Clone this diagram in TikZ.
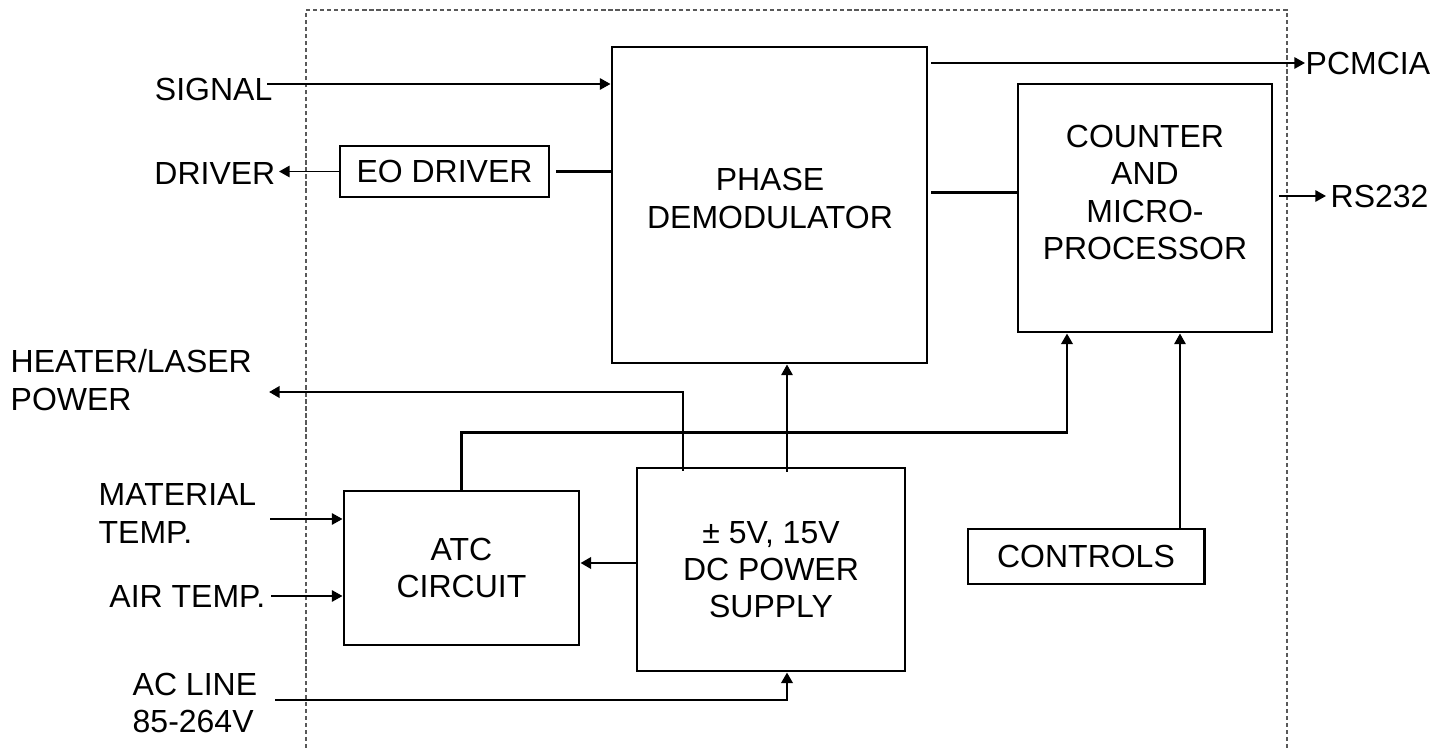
\documentclass[tikz,border=0pt]{standalone}
\usepackage{fontspec}
\setmainfont{Liberation Sans}
\usepackage{tikz}
\usetikzlibrary{arrows.meta,positioning,calc}

\tikzset{
    blk/.style={draw, line width=0.85pt, rectangle, inner sep=0pt, align=center},
    txt/.style={inner sep=0pt, align=left},
    arr/.style={-{Triangle[length=3pt, width=3.2pt]}, line width=0.55pt},
    wire/.style={line width=0.8pt},
    border/.style={gray!70!black, line width=0.4pt, dash pattern=on 1.2pt off 0.8pt}
}

\begin{document}
\begin{tikzpicture}[font=\fontsize{9.1}{10.6}\selectfont]
\useasboundingbox (0,0) rectangle (14.51,-7.48);

% ---- Enclosure (open at the bottom) ----
\draw[border] (3.06,-7.48) |- (12.87,-0.10) -- (12.87,-7.48);

% ---- Blocks ----
\node[blk, minimum width=3.15cm, minimum height=3.16cm] (demod) at (7.695,-2.05) {};
\node[txt, align=center] (demodtxt) at (7.70,-1.985) {PHASE\\DEMODULATOR};
\node[blk, minimum width=2.54cm, minimum height=2.48cm] (counter) at (11.45,-2.08) {};
\node[txt, align=center] (countertxt) at (11.45,-1.925) {COUNTER\\AND\\MICRO-\\PROCESSOR};
\node[blk, minimum width=2.09cm, minimum height=0.51cm] (eodrv) at (4.445,-1.715) {EO DRIVER};
\node[blk, minimum width=2.35cm, minimum height=1.54cm] (atc) at (4.615,-5.68) {ATC\\CIRCUIT};
\node[blk, minimum width=2.68cm, minimum height=2.03cm] (dcps) at (7.71,-5.695) {± 5V, 15V\\DC POWER\\SUPPLY};
\node[blk, minimum width=2.36cm, minimum height=0.55cm] (ctrl) at (10.86,-5.565) {CONTROLS};

% ---- Outside labels ----
\node[txt, anchor=east] (signal) at (2.73,-0.895) {SIGNAL};
\node[txt, anchor=east] (driver) at (2.76,-1.74) {DRIVER};
\node[txt, anchor=west] (pcmcia) at (13.05,-0.63) {PCMCIA};
\node[txt, anchor=west] (rs232) at (13.30,-1.96) {RS232};
\node[txt, anchor=west] (heater) at (0.10,-3.80) {HEATER/LASER\\POWER};
\node[txt, anchor=west] (material) at (0.98,-5.135) {MATERIAL\\TEMP.};
\node[txt, anchor=east] (airtemp) at (2.66,-5.96) {AIR TEMP.};
\node[txt, anchor=west] (acline) at (1.32,-7.03) {AC LINE\\85-264V};

% ---- Free ends and taps ----
\coordinate (sigin) at (2.67,-0.84);
\coordinate (htrend) at (2.69,-3.92);
\coordinate (matin) at (2.70,-5.19);
\coordinate (acin) at (2.75,-7.00);
\coordinate (psup) at ([xshift=0.16cm]dcps.north);
\coordinate (htr) at ([xshift=-0.88cm]dcps.north);
\coordinate (fbin) at ([xshift=-0.78cm]counter.south);
\coordinate (ctlout) at ([xshift=0.94cm]ctrl.north);

% ---- Signal path ----
\draw[arr] (sigin) -- (sigin -| demod.west);
\draw[wire] ([xshift=0.06cm]eodrv.east) -- (eodrv.east -| demod.west);
\draw[arr] (eodrv.west) -- ([xshift=0.03cm]eodrv.west -| driver.east);
\draw[arr] ([xshift=0.03cm]demod.east |- pcmcia.west) -- (pcmcia.west);
\draw[wire] ([xshift=0.03cm]demod.east |- countertxt) -- (counter.west |- countertxt);
\draw[arr] ([xshift=0.06cm]counter.east |- rs232.west) -- ([xshift=-0.04cm]rs232.west);

% ---- Power and temperature ----
\draw[arr] ([yshift=-0.05cm]psup) -- (psup |- demod.south);
\draw[arr, wire] ([yshift=-0.04cm]htr) |- (htrend);
\draw[arr, wire] (atc.north) -- ++(0,0.57) -| (fbin);
\draw[arr] (ctlout) -- (ctlout |- counter.south);
\draw[arr, wire] ([yshift=0.065cm]dcps.west) coordinate (dcl) -- (dcl -| atc.east);
\draw[arr] (matin) -- (matin -| atc.west);
\draw[arr] ([xshift=0.05cm]airtemp.east) -- (airtemp.east -| atc.west);
\draw[arr, wire] (acin) -| (psup |- dcps.south);

\end{tikzpicture}
\end{document}
